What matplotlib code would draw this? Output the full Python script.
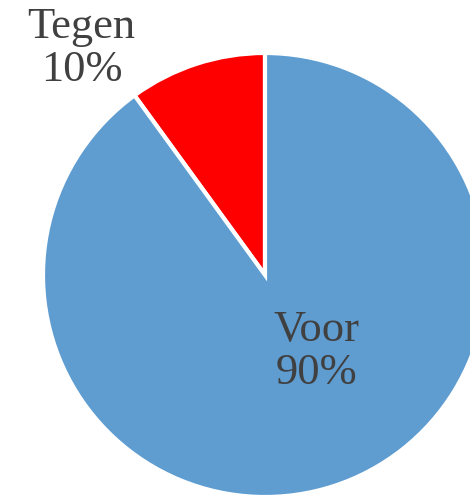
import matplotlib
matplotlib.use("Agg")
import matplotlib.pyplot as plt

labels = ['Tegen', 'Voor']
values = [10, 90]
colors = ['#FF0000', '#5F9DD1']

fig = plt.figure(figsize=(4.70, 4.96), dpi=100)
ax = fig.add_axes([0, 0, 1, 1])

wedges, _ = ax.pie(values, colors=colors, startangle=90, counterclock=True,
                   wedgeprops=dict(edgecolor='white', linewidth=3))

# center at pixel (265, 275), radius ~222 px
r = 222
ax.set_aspect('auto')
ax.set_xlim(-265 / r, (470 - 265) / r)
ax.set_ylim(-(496 - 275) / r, 275 / r)
ax.axis('off')

txt = dict(family='Liberation Serif', fontsize=32, color='#404040',
           ha='center', va='center', linespacing=1.1)
ax.text(-0.826, 1.02, f"{labels[0]}\n{values[0]}%", **txt)
ax.text(0.23, -0.345, f"{labels[1]}\n{values[1]}%", **txt)

fig.savefig('out.png', dpi=100)
